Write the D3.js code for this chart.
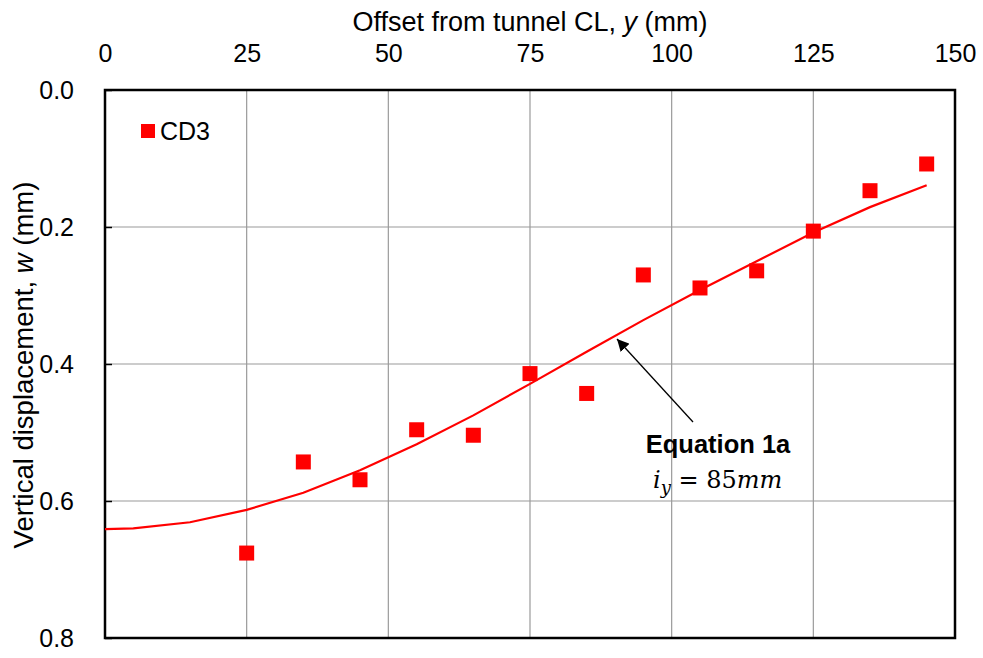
<!DOCTYPE html>
<html>
<head>
<meta charset="utf-8">
<script src="https://cdn.jsdelivr.net/npm/d3@7"></script>
<style>
  body { margin: 0; background: #fff; }
  svg text { font-family: "Liberation Sans", Arial, sans-serif; fill: #000; }
  .grid line { stroke: #9a9a9a; stroke-width: 1.2; }
</style>
</head>
<body>
<svg id="chart" width="983" height="658"></svg>
<script>
// measured points, CD3
var offsets = [25, 35, 45, 55, 65, 75, 85, 95, 105, 115, 125, 135, 145];
var displacements = [0.676, 0.543, 0.569, 0.496, 0.504, 0.414, 0.443, 0.270, 0.289, 0.264, 0.206, 0.147, 0.108];

// Equation 1a curve
var curveOffsets = [0, 5, 15, 25, 35, 45, 55, 65, 75, 85, 95, 105, 115, 125, 135, 145];
var curveValues = [0.641, 0.640, 0.631, 0.613, 0.588, 0.555, 0.517, 0.475, 0.429, 0.382, 0.336, 0.292, 0.250, 0.208, 0.171, 0.139];

var xTicks = [0, 25, 50, 75, 100, 125, 150];
var yTicks = [0.0, 0.2, 0.4, 0.6, 0.8];

var svg = d3.select("#chart");
// plot box ("top" is taken by window.top, so prefix these)
var plotLeft = 105, plotRight = 955, plotTop = 90, plotBottom = 638;

var x = d3.scaleLinear().domain([0, 150]).range([plotLeft, plotRight]);
var y = d3.scaleLinear().domain([0, 0.8]).range([plotTop, plotBottom]);

// gridlines
var grid = svg.append("g").attr("class", "grid");
grid.selectAll("line.v").data(xTicks.slice(1, -1)).enter().append("line")
    .attr("x1", function(d) { return x(d); })
    .attr("x2", function(d) { return x(d); })
    .attr("y1", plotTop).attr("y2", plotBottom);
grid.selectAll("line.h").data(yTicks.slice(1, -1)).enter().append("line")
    .attr("x1", plotLeft).attr("x2", plotRight)
    .attr("y1", function(d) { return y(d); })
    .attr("y2", function(d) { return y(d); });

// axes
var xAxis = svg.append("g")
    .attr("transform", "translate(0," + plotTop + ")")
    .call(d3.axisTop(x).tickValues(xTicks).tickSize(0).tickPadding(28).tickFormat(d3.format("d")));
var yAxis = svg.append("g")
    .attr("transform", "translate(" + plotLeft + ",0)")
    .call(d3.axisLeft(y).tickValues(yTicks).tickSize(-7).tickPadding(31).tickFormat(d3.format(".1f")));

[xAxis, yAxis].forEach(function(a) {
    a.select(".domain").remove();
    a.selectAll("text").style("font-size", "25px").style("font-family", "'Liberation Sans', Arial, sans-serif");
    a.selectAll(".tick line").attr("stroke", "#000").attr("stroke-width", 1.5);
});

// frame
svg.append("rect")
    .attr("x", plotLeft).attr("y", plotTop)
    .attr("width", plotRight - plotLeft).attr("height", plotBottom - plotTop)
    .attr("fill", "none").attr("stroke", "#000").attr("stroke-width", 2.5);

// axis titles
svg.append("text")
    .attr("x", (plotLeft + plotRight) / 2 + 0).attr("y", 31)
    .attr("text-anchor", "middle").style("font-size", "27px")
    .html("Offset from tunnel CL, <tspan font-style='italic'>y</tspan> (mm)");

svg.append("text")
    .attr("transform", "translate(33,365) rotate(-90)")
    .attr("text-anchor", "middle").style("font-size", "27.5px")
    .html("Vertical displacement, <tspan font-style='italic'>w</tspan> (mm)");

// curve
var line = d3.line()
    .x(function(d, i) { return x(curveOffsets[i]); })
    .y(function(d) { return y(d); });
svg.append("path")
    .datum(curveValues)
    .attr("d", line)
    .attr("fill", "none")
    .attr("stroke", "#ff0000")
    .attr("stroke-width", 2.2);

// markers
var s = 15;
svg.selectAll("rect.pt").data(displacements).enter().append("rect")
    .attr("class", "pt")
    .attr("x", function(d, i) { return x(offsets[i]) - s / 2; })
    .attr("y", function(d) { return y(d) - s / 2; })
    .attr("width", s).attr("height", s)
    .attr("fill", "#ff0000");

// legend
svg.append("rect").attr("x", 141).attr("y", 124).attr("width", 14).attr("height", 14).attr("fill", "#ff0000");
svg.append("text").attr("x", 160).attr("y", 140).style("font-size", "25px").text("CD3");

// annotation
svg.append("defs").append("marker")
    .attr("id", "arrow").attr("viewBox", "0 0 10 10")
    .attr("refX", 10).attr("refY", 5)
    .attr("markerWidth", 12).attr("markerHeight", 12)
    .attr("markerUnits", "userSpaceOnUse")
    .attr("orient", "auto")
    .append("path").attr("d", "M0,0 L10,5 L0,10 z").attr("fill", "#000");

svg.append("line")
    .attr("x1", 693).attr("y1", 422)
    .attr("x2", 617).attr("y2", 339)
    .attr("stroke", "#000").attr("stroke-width", 1.3)
    .attr("marker-end", "url(#arrow)");

svg.append("text")
    .attr("x", 718).attr("y", 453)
    .attr("text-anchor", "middle")
    .style("font-size", "25.5px").style("font-weight", "bold")
    .text("Equation 1a");

var eq = svg.append("text")
    .attr("x", 653).attr("y", 488)
    .style("font-family", "'DejaVu Serif', 'Liberation Serif', serif")
    .style("font-size", "24px");
eq.append("tspan").attr("font-style", "italic").text("i");
eq.append("tspan").attr("font-style", "italic").attr("dy", 6).style("font-size", "18px").text("y");
eq.append("tspan").attr("dy", -6).text(" = 85");
eq.append("tspan").attr("font-style", "italic").text("mm");
</script>
</body>
</html>
